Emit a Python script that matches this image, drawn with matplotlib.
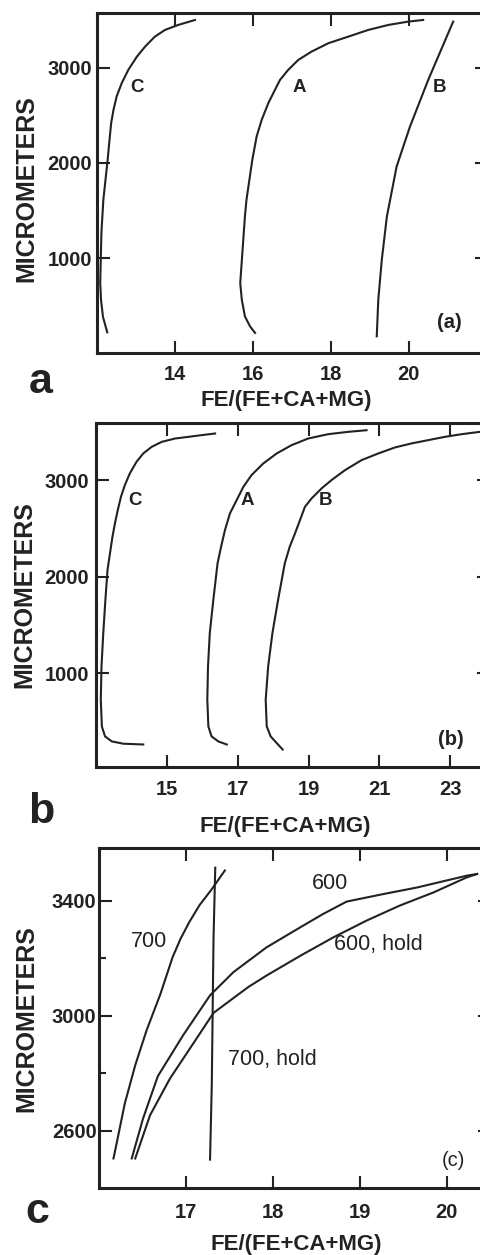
import matplotlib.pyplot as plt

plt.rcParams['font.family'] = ['Liberation Sans', 'DejaVu Sans']

INK = '#222222'

# ---- panel (a): values ----
a_C_x = [14.52, 14.09, 13.75, 13.49, 13.24, 13.03, 12.81, 12.64, 12.51, 12.43, 12.37, 12.32, 12.28,
         12.17, 12.12, 12.09, 12.11, 12.16, 12.27]
a_C_y = [3500, 3448, 3395, 3325, 3220, 3115, 2976, 2836, 2696, 2556, 2417, 2207, 2032,
         1612, 1265, 740, 563, 383, 220]
a_A_x = [20.37, 19.99, 19.48, 18.96, 18.45, 17.94, 17.51, 17.17, 16.91, 16.70, 16.57, 16.40, 16.23,
         16.10, 15.99, 15.84, 15.80, 15.74, 15.68, 15.72, 15.80, 15.93, 16.06]
a_A_y = [3500, 3483, 3448, 3395, 3325, 3256, 3168, 3081, 2976, 2871, 2766, 2627, 2451,
         2276, 2032, 1612, 1437, 1088, 738, 563, 388, 283, 214]
a_B_x = [21.14, 20.50, 20.03, 19.69, 19.44, 19.31, 19.22, 19.18]
a_B_y = [3483, 2871, 2378, 1961, 1437, 983, 563, 178]
a_xticks = [14, 16, 18, 20]
a_yticks = [1000, 2000, 3000]

# ---- panel (b) ----
b_C_x = [16.36, 15.98, 15.60, 15.23, 14.85, 14.57, 14.33, 14.14, 13.95, 13.81, 13.70, 13.61, 13.53,
         13.46, 13.39, 13.32, 13.26, 13.20, 13.15, 13.13, 13.16, 13.25, 13.44, 13.77, 14.33]
b_C_y = [3483, 3466, 3448, 3431, 3396, 3345, 3276, 3190, 3069, 2948, 2827, 2690, 2552,
         2413, 2242, 2069, 1758, 1414, 1069, 724, 447, 344, 292, 268, 260]
b_A_x = [20.64, 20.12, 19.56, 18.99, 18.52, 18.10, 17.72, 17.39, 17.16, 16.97, 16.78, 16.64, 16.53,
         16.43, 16.31, 16.21, 16.16, 16.14, 16.17, 16.26, 16.45, 16.69]
b_A_y = [3517, 3500, 3476, 3431, 3362, 3276, 3172, 3052, 2931, 2793, 2655, 2483, 2310,
         2138, 1758, 1414, 1069, 724, 447, 344, 292, 260]
b_B_x = [23.84, 23.33, 22.85, 22.38, 21.91, 21.44, 20.97, 20.50, 20.03, 19.65, 19.37, 19.09, 18.90,
         18.76, 18.62, 18.47, 18.33, 18.14, 17.98, 17.86, 17.79, 17.82, 17.93, 18.10, 18.27]
b_B_y = [3500, 3476, 3448, 3414, 3380, 3338, 3276, 3207, 3103, 3000, 2914, 2811, 2724,
         2586, 2449, 2310, 2138, 1758, 1414, 1069, 724, 447, 344, 275, 208]
b_xticks = [15, 17, 19, 21, 23]
b_yticks = [1000, 2000, 3000]

# ---- panel (c) ----
c_700_x = [16.17, 16.21, 16.30, 16.42, 16.55, 16.71, 16.85, 16.94, 17.04, 17.16, 17.30, 17.45]
c_700_y = [2504, 2562, 2695, 2828, 2949, 3076, 3204, 3267, 3325, 3385, 3440, 3505]
c_700h_x = [17.28, 17.30, 17.32, 17.34]
c_700h_y = [2500, 2760, 3270, 3515]
c_600_x = [16.38, 16.51, 16.68, 16.97, 17.28, 17.55, 17.93, 18.32, 18.58, 18.85, 19.27, 19.66, 20.23, 20.35]
c_600_y = [2504, 2643, 2790, 2932, 3071, 3152, 3238, 3308, 3354, 3397, 3423, 3446, 3487, 3493]
c_600h_x = [16.42, 16.59, 16.82, 17.09, 17.32, 17.72, 17.93, 18.32, 18.70, 19.08, 19.46, 19.85, 20.23, 20.35]
c_600h_y = [2504, 2654, 2782, 2905, 3010, 3100, 3140, 3209, 3273, 3331, 3383, 3429, 3481, 3493]
c_xticks = [17, 18, 19, 20]
c_yticks = [2600, 3000, 3400]
c_yminor = [2800, 3200]

XLABEL = 'FE/(FE+CA+MG)'
YLABEL = 'MICROMETERS'


def style(ax, xlim, ylim, xticks, yticks, xpad, ypad):
    ax.set_xlim(xlim)
    ax.set_ylim(ylim)
    ax.set_xticks(xticks, labels=[str(t) for t in xticks], fontweight='bold')
    ax.set_yticks(yticks, labels=[str(t) for t in yticks], fontweight='bold')
    ax.tick_params(direction='in', length=9, width=1.5, top=True, right=True,
                   labelsize=14.5, colors=INK)
    ax.tick_params(axis='x', pad=xpad)
    ax.tick_params(axis='y', pad=ypad)
    for s in ax.spines.values():
        s.set_linewidth(2.2)
        s.set_color(INK)


def labels(ax, xy_xlabel, xy_ylabel):
    ax.set_xlabel(XLABEL, fontsize=16, fontweight='bold', color=INK)
    ax.xaxis.label.set_va('baseline')
    ax.xaxis.set_label_coords(*xy_xlabel)
    ax.set_ylabel(YLABEL, fontsize=18, fontweight='bold', color=INK)
    ax.yaxis.set_label_coords(*xy_ylabel)


fig = plt.figure(figsize=(4.8, 12.55), dpi=100)
lw = 1.5

# (a)
ax = fig.add_axes([0.2015, 0.7185, 0.8125, 0.2709])
ax.plot(a_C_x, a_C_y, color=INK, lw=lw)
ax.plot(a_A_x, a_A_y, color=INK, lw=lw)
ax.plot(a_B_x, a_B_y, color=INK, lw=lw)
style(ax, (12, 22), (0, 3570), a_xticks, a_yticks, 8.4, 3.5)
labels(ax, (0.487, -0.155), (-0.1505, 0.485))
for s, x in [('C', 13.03), ('A', 17.2), ('B', 20.8)]:
    ax.text(x, 2748, s, ha='center', va='baseline', fontsize=13.5, fontweight='bold', color=INK)
ax.text(21.03, 269, '(a)', ha='center', va='baseline', fontsize=14.5, fontweight='bold', color=INK)

# (b)
ax = fig.add_axes([0.2004, 0.3891, 0.8183, 0.2741])
ax.plot(b_C_x, b_C_y, color=INK, lw=lw)
ax.plot(b_A_x, b_A_y, color=INK, lw=lw)
ax.plot(b_B_x, b_B_y, color=INK, lw=lw)
style(ax, (13, 24.1), (30, 3595), b_xticks, b_yticks, 9.6, 5)
labels(ax, (0.481, -0.189), (-0.1515, 0.499))
for s, x in [('C', 14.1), ('A', 17.28), ('B', 19.49)]:
    ax.text(x, 2741, s, ha='center', va='baseline', fontsize=13.5, fontweight='bold', color=INK)
ax.text(23.02, 258, '(b)', ha='center', va='baseline', fontsize=14.5, fontweight='bold', color=INK)

# (c)
ax = fig.add_axes([0.2056, 0.0531, 0.8156, 0.2716])
ax.plot(c_700_x, c_700_y, color=INK, lw=lw)
ax.plot(c_700h_x, c_700h_y, color=INK, lw=lw)
ax.plot(c_600_x, c_600_y, color=INK, lw=lw)
ax.plot(c_600h_x, c_600h_y, color=INK, lw=lw)
style(ax, (16, 20.5), (2400, 3585), c_xticks, c_yticks, 10.8, 1.5)
ax.set_yticks(c_yminor, minor=True)
ax.tick_params(which='minor', direction='in', length=5, width=1.5, right=True, colors=INK)
labels(ax, (0.504, -0.181), (-0.154, 0.499))
for s, x, y in [('600', 18.66, 3441), ('600, hold', 19.21, 3227),
                ('700', 16.58, 3238), ('700, hold', 18.0, 2830)]:
    ax.text(x, y, s, ha='center', va='baseline', fontsize=15.5, color=INK)
ax.text(20.08, 2476, '(c)', ha='center', va='baseline', fontsize=14.5, color=INK)

# big panel letters
for s, x, y in [('a', 41, 393), ('b', 41, 823), ('c', 37.5, 1223)]:
    fig.text(x / 480, 1 - y / 1255, s, ha='center', va='baseline',
             fontsize=31, fontweight='bold', color=INK)

fig.savefig('out.png', dpi=100)
